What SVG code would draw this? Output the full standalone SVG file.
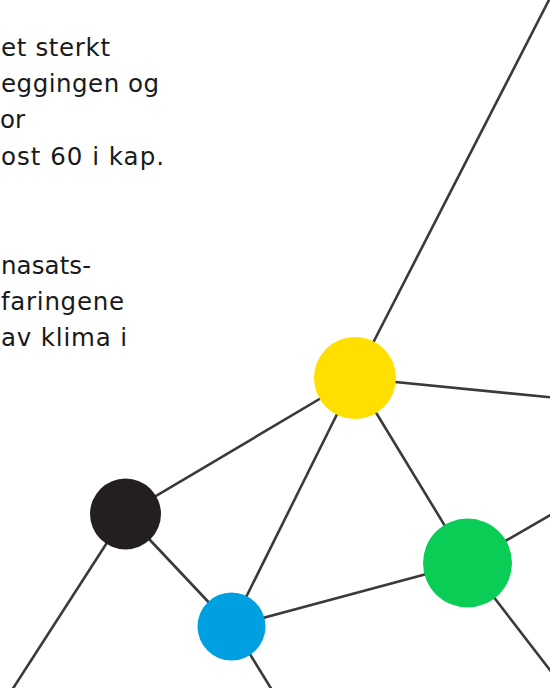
<svg xmlns="http://www.w3.org/2000/svg" width="550" height="688" viewBox="0 0 550 688">
<style>
.t{font-family:"DejaVu Sans","Liberation Sans",Arial,sans-serif;font-size:24.5px;fill:#1a1a1a}
.c{stroke:#3a3a3a;stroke-width:2.6;fill:none;stroke-linecap:butt}
</style>
<rect width="550" height="688" fill="#ffffff"/>
<g id="text">
<text class="t" x="1" y="56" textLength="109" lengthAdjust="spacing">et sterkt</text>
<text class="t" x="1" y="92" textLength="158" lengthAdjust="spacing">eggingen og</text>
<text class="t" x="0" y="128">or</text>
<text class="t" x="1" y="165" textLength="163" lengthAdjust="spacing">ost 60 i kap.</text>
<text class="t" x="1" y="274" textLength="90" lengthAdjust="spacing">nasats-</text>
<text class="t" x="1" y="310" textLength="123" lengthAdjust="spacing">faringene</text>
<text class="t" x="1" y="346" textLength="126" lengthAdjust="spacing">av klima i</text>
</g>
<g id="connectors">
<line class="c" x1="355" y1="378" x2="550" y2="-2"/>
<line class="c" x1="355" y1="378" x2="552" y2="397.5"/>
<line class="c" x1="355" y1="378" x2="125.5" y2="514"/>
<line class="c" x1="355" y1="378" x2="231.5" y2="626.5"/>
<line class="c" x1="355" y1="378" x2="467.5" y2="563"/>
<line class="c" x1="125.5" y1="514" x2="12" y2="690"/>
<line class="c" x1="125.5" y1="514" x2="231.5" y2="626.5"/>
<line class="c" x1="231.5" y1="626.5" x2="467.5" y2="563"/>
<line class="c" x1="233" y1="626.5" x2="272" y2="690"/>
<line class="c" x1="467.5" y1="563" x2="552" y2="514"/>
<line class="c" x1="467.5" y1="563" x2="560" y2="683"/>
</g>
<g id="node-yellow"><circle cx="355" cy="378" r="41" fill="#ffdf00"/></g>
<g id="node-black"><circle cx="125.5" cy="514" r="35.5" fill="#231f20"/></g>
<g id="node-blue"><circle cx="231.5" cy="626.5" r="34" fill="#009fe0"/></g>
<g id="node-green"><circle cx="467.5" cy="563" r="44.5" fill="#0acd55"/></g>
</svg>
